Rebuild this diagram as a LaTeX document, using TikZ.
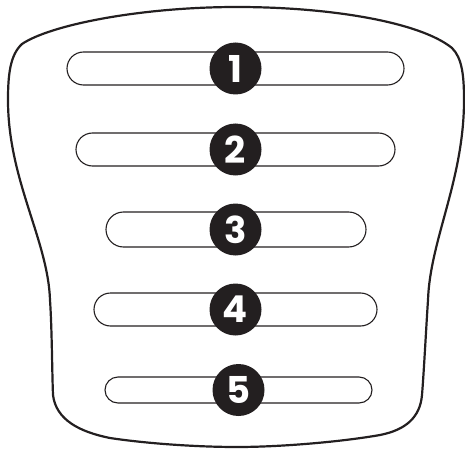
\documentclass[tikz,border=0pt]{standalone}
\usepackage{fontspec}
\setmainfont{Poppins}
\definecolor{ink}{HTML}{231F20}
\begin{document}
\begin{tikzpicture}[x=1pt,y=-1pt,
  pill/.style={draw=ink,line width=1.1pt,rectangle,inner sep=0pt},
  badge/.style={circle,fill=ink,minimum size=52pt,inner sep=0pt,text=white,
    font=\fontsize{37}{37}\selectfont\bfseries},
  outline/.style={draw=ink,line width=2.2pt}]
\useasboundingbox (0,0) rectangle (465,449);
% outer shape
\draw[outline] (237,7) .. controls (140,7) and (50,25) .. (22,44)
  .. controls (10,55) and (8,75) .. (8,100)
  .. controls (8,180) and (48,240) .. (50,300)
  .. controls (52,330) and (52,370) .. (53,395)
  .. controls (56,420) and (80,432) .. (110,438)
  .. controls (150,444) and (200,447) .. (237,447)
  .. controls (280,447) and (340,442) .. (380,435)
  .. controls (405,430) and (420,418) .. (422,395)
  .. controls (424,370) and (426,330) .. (428,300)
  .. controls (430,240) and (464,180) .. (464,100)
  .. controls (464,75) and (462,58) .. (452,48)
  .. controls (420,22) and (330,7) .. (237,7) -- cycle;
% pills
\node[pill,minimum width=337pt,minimum height=33pt,rounded corners=16.5pt] (p1) at (235.5,68.5) {};
\node[pill,minimum width=319pt,minimum height=33pt,rounded corners=16.5pt] (p2) at (235.5,149.5) {};
\node[pill,minimum width=260pt,minimum height=35pt,rounded corners=17.5pt] (p3) at (236,229.5) {};
\node[pill,minimum width=283pt,minimum height=33pt,rounded corners=16.5pt] (p4) at (235.5,309.5) {};
\node[pill,minimum width=267pt,minimum height=26pt,rounded corners=13pt] (p5) at (238.5,390) {};
% badges
\node[badge] (b1) at (235.5,68.5) {1};
\node[badge] (b2) at (235.5,149.5) {2};
\node[badge] (b3) at (235.5,229.5) {3};
\node[badge] (b4) at (235.5,309.5) {4};
\node[badge] (b5) at (238.5,390) {5};
\end{tikzpicture}
\end{document}
